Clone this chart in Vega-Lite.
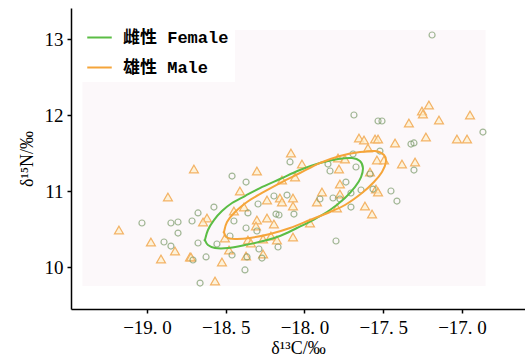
{
  "$schema": "https://vega.github.io/schema/vega-lite/v6.json",
  "width": 454,
  "height": 301,
  "padding": {"left": 71, "top": 8, "right": 0, "bottom": 52},
  "autosize": {"type": "none"},
  "background": "white",
  "config": {
    "view": {"stroke": null},
    "axis": {
      "grid": false,
      "zindex": 1,
      "ticks": true,
      "domainColor": "#000000",
      "domainWidth": 1.5,
      "tickColor": "#000000",
      "tickWidth": 1.5,
      "tickSize": 4,
      "labelFont": "Liberation Serif",
      "labelFontSize": 19,
      "labelColor": "#000000",
      "titleFont": "Liberation Serif",
      "titleFontSize": 18,
      "titleFontWeight": "normal",
      "titleColor": "#000000"
    }
  },
  "datasets": {
    "bg": [{"x1": -19.41, "x2": -16.85, "y1": 9.75, "y2": 13.12}],
    "female": [
      {"c": -19.032, "n": 10.579}, {"c": -18.848, "n": 10.579}, {"c": -18.803, "n": 10.592}, {"c": -18.714, "n": 10.605},
      {"c": -18.803, "n": 10.447}, {"c": -18.892, "n": 10.329}, {"c": -18.848, "n": 10.276}, {"c": -18.708, "n": 10.092},
      {"c": -18.46, "n": 11.197}, {"c": -18.371, "n": 11.118}, {"c": -18.092, "n": 11.382}, {"c": -18.575, "n": 10.789},
      {"c": -18.676, "n": 10.711}, {"c": -18.448, "n": 10.605}, {"c": -18.359, "n": 10.711}, {"c": -18.295, "n": 10.829},
      {"c": -18.194, "n": 10.934}, {"c": -18.111, "n": 10.947}, {"c": -18.181, "n": 10.697}, {"c": -18.162, "n": 10.684},
      {"c": -18.067, "n": 10.697}, {"c": -18.371, "n": 10.513}, {"c": -18.302, "n": 10.474}, {"c": -18.676, "n": 10.316},
      {"c": -18.556, "n": 10.303}, {"c": -18.473, "n": 10.408}, {"c": -18.168, "n": 10.263}, {"c": -18.289, "n": 10.237},
      {"c": -18.46, "n": 10.158}, {"c": -18.365, "n": 10.132}, {"c": -18.27, "n": 10.118}, {"c": -18.625, "n": 10.132},
      {"c": -18.378, "n": 9.961}, {"c": -18.663, "n": 9.789}, {"c": -17.686, "n": 12.0}, {"c": -17.533, "n": 11.921},
      {"c": -17.508, "n": 11.921}, {"c": -16.867, "n": 11.776}, {"c": -17.324, "n": 11.618}, {"c": -17.305, "n": 11.632},
      {"c": -17.521, "n": 11.526}, {"c": -17.692, "n": 11.487}, {"c": -17.305, "n": 11.276}, {"c": -17.851, "n": 11.355},
      {"c": -17.838, "n": 11.263}, {"c": -17.673, "n": 11.316}, {"c": -17.737, "n": 11.118}, {"c": -17.584, "n": 11.224},
      {"c": -17.641, "n": 11.013}, {"c": -17.565, "n": 11.026}, {"c": -17.451, "n": 11.0}, {"c": -17.413, "n": 10.868},
      {"c": -17.705, "n": 10.789}, {"c": -17.902, "n": 10.895}, {"c": -17.819, "n": 10.908}, {"c": -17.775, "n": 10.895},
      {"c": -17.705, "n": 10.974}, {"c": -17.8, "n": 10.342}, {"c": -17.19, "n": 13.053}
    ],
    "male": [
      {"c": -18.867, "n": 10.921}, {"c": -19.178, "n": 10.487}, {"c": -18.975, "n": 10.329}, {"c": -18.822, "n": 10.211},
      {"c": -18.911, "n": 10.105}, {"c": -18.727, "n": 10.132}, {"c": -18.702, "n": 11.289}, {"c": -18.302, "n": 11.263},
      {"c": -18.086, "n": 11.5}, {"c": -18.41, "n": 11.0}, {"c": -18.619, "n": 10.645}, {"c": -18.644, "n": 10.592},
      {"c": -18.448, "n": 10.737}, {"c": -18.384, "n": 10.789}, {"c": -18.238, "n": 10.882}, {"c": -18.156, "n": 10.908},
      {"c": -18.073, "n": 10.908}, {"c": -18.143, "n": 10.855}, {"c": -18.073, "n": 10.803}, {"c": -18.238, "n": 10.645},
      {"c": -18.302, "n": 10.618}, {"c": -18.308, "n": 10.539}, {"c": -18.194, "n": 10.566}, {"c": -18.073, "n": 10.395},
      {"c": -18.505, "n": 10.382}, {"c": -18.359, "n": 10.355}, {"c": -18.34, "n": 10.316}, {"c": -18.263, "n": 10.368},
      {"c": -18.213, "n": 10.408}, {"c": -18.175, "n": 10.355}, {"c": -18.479, "n": 10.224}, {"c": -18.371, "n": 10.145},
      {"c": -18.263, "n": 10.171}, {"c": -18.524, "n": 10.066}, {"c": -18.721, "n": 10.132}, {"c": -18.568, "n": 9.816},
      {"c": -18.016, "n": 11.355}, {"c": -17.21, "n": 12.132}, {"c": -17.254, "n": 12.053}, {"c": -17.248, "n": 12.013},
      {"c": -17.337, "n": 11.895}, {"c": -17.146, "n": 11.934}, {"c": -16.949, "n": 12.0}, {"c": -17.654, "n": 11.697},
      {"c": -17.622, "n": 11.671}, {"c": -17.552, "n": 11.684}, {"c": -17.533, "n": 11.684}, {"c": -17.425, "n": 11.632},
      {"c": -17.229, "n": 11.711}, {"c": -17.032, "n": 11.684}, {"c": -16.968, "n": 11.684}, {"c": -17.597, "n": 11.566},
      {"c": -17.54, "n": 11.408}, {"c": -17.495, "n": 11.408}, {"c": -17.381, "n": 11.355}, {"c": -17.298, "n": 11.382},
      {"c": -17.787, "n": 11.434}, {"c": -17.743, "n": 11.421}, {"c": -17.781, "n": 11.289}, {"c": -18.06, "n": 11.184},
      {"c": -18.143, "n": 11.145}, {"c": -17.775, "n": 11.092}, {"c": -17.584, "n": 11.25}, {"c": -17.546, "n": 11.026},
      {"c": -17.533, "n": 10.987}, {"c": -17.616, "n": 10.803}, {"c": -17.571, "n": 10.697}, {"c": -17.889, "n": 10.987},
      {"c": -17.921, "n": 10.855}, {"c": -17.775, "n": 10.961}, {"c": -17.794, "n": 10.776}, {"c": -17.965, "n": 10.579}
    ],
    "ell": [
      {"sex": "雌性 Female", "i": 0, "c": -18.632, "n": 10.355}, {"sex": "雌性 Female", "i": 1, "c": -18.613, "n": 10.487},
      {"sex": "雌性 Female", "i": 2, "c": -18.575, "n": 10.618}, {"sex": "雌性 Female", "i": 3, "c": -18.524, "n": 10.737},
      {"sex": "雌性 Female", "i": 4, "c": -18.46, "n": 10.842}, {"sex": "雌性 Female", "i": 5, "c": -18.378, "n": 10.934},
      {"sex": "雌性 Female", "i": 6, "c": -18.283, "n": 11.039}, {"sex": "雌性 Female", "i": 7, "c": -18.156, "n": 11.158},
      {"sex": "雌性 Female", "i": 8, "c": -18.029, "n": 11.276}, {"sex": "雌性 Female", "i": 9, "c": -17.902, "n": 11.368},
      {"sex": "雌性 Female", "i": 10, "c": -17.787, "n": 11.421}, {"sex": "雌性 Female", "i": 11, "c": -17.698, "n": 11.434},
      {"sex": "雌性 Female", "i": 12, "c": -17.648, "n": 11.395}, {"sex": "雌性 Female", "i": 13, "c": -17.629, "n": 11.303},
      {"sex": "雌性 Female", "i": 14, "c": -17.641, "n": 11.184}, {"sex": "雌性 Female", "i": 15, "c": -17.679, "n": 11.053},
      {"sex": "雌性 Female", "i": 16, "c": -17.743, "n": 10.908}, {"sex": "雌性 Female", "i": 17, "c": -17.838, "n": 10.75},
      {"sex": "雌性 Female", "i": 18, "c": -17.946, "n": 10.618}, {"sex": "雌性 Female", "i": 19, "c": -18.048, "n": 10.513},
      {"sex": "雌性 Female", "i": 20, "c": -18.156, "n": 10.408}, {"sex": "雌性 Female", "i": 21, "c": -18.263, "n": 10.342},
      {"sex": "雌性 Female", "i": 22, "c": -18.378, "n": 10.289}, {"sex": "雌性 Female", "i": 23, "c": -18.486, "n": 10.25},
      {"sex": "雌性 Female", "i": 24, "c": -18.568, "n": 10.25}, {"sex": "雌性 Female", "i": 25, "c": -18.613, "n": 10.289},
      {"sex": "雌性 Female", "i": 26, "c": -18.632, "n": 10.355},
      {"sex": "雄性 Male", "i": 0, "c": -18.511, "n": 10.461}, {"sex": "雄性 Male", "i": 1, "c": -18.492, "n": 10.592},
      {"sex": "雄性 Male", "i": 2, "c": -18.441, "n": 10.724}, {"sex": "雄性 Male", "i": 3, "c": -18.365, "n": 10.855},
      {"sex": "雄性 Male", "i": 4, "c": -18.27, "n": 10.974}, {"sex": "雄性 Male", "i": 5, "c": -18.156, "n": 11.105},
      {"sex": "雄性 Male", "i": 6, "c": -18.029, "n": 11.237}, {"sex": "雄性 Male", "i": 7, "c": -17.902, "n": 11.368},
      {"sex": "雄性 Male", "i": 8, "c": -17.775, "n": 11.461}, {"sex": "雄性 Male", "i": 9, "c": -17.648, "n": 11.513},
      {"sex": "雄性 Male", "i": 10, "c": -17.552, "n": 11.526}, {"sex": "雄性 Male", "i": 11, "c": -17.495, "n": 11.474},
      {"sex": "雄性 Male", "i": 12, "c": -17.483, "n": 11.382}, {"sex": "雄性 Male", "i": 13, "c": -17.508, "n": 11.25},
      {"sex": "雄性 Male", "i": 14, "c": -17.559, "n": 11.118}, {"sex": "雄性 Male", "i": 15, "c": -17.635, "n": 10.974},
      {"sex": "雄性 Male", "i": 16, "c": -17.743, "n": 10.816}, {"sex": "雄性 Male", "i": 17, "c": -17.838, "n": 10.724},
      {"sex": "雄性 Male", "i": 18, "c": -17.965, "n": 10.618}, {"sex": "雄性 Male", "i": 19, "c": -18.092, "n": 10.513},
      {"sex": "雄性 Male", "i": 20, "c": -18.219, "n": 10.434}, {"sex": "雄性 Male", "i": 21, "c": -18.346, "n": 10.382},
      {"sex": "雄性 Male", "i": 22, "c": -18.441, "n": 10.368}, {"sex": "雄性 Male", "i": 23, "c": -18.498, "n": 10.395},
      {"sex": "雄性 Male", "i": 24, "c": -18.511, "n": 10.461}
    ]
  },
  "layer": [
    {
      "data": {"name": "bg"},
      "mark": {"type": "rect", "fill": "#fcf8fa"},
      "encoding": {
        "x": {"field": "x1", "type": "quantitative", "scale": {"domain": [-19.4825, -16.6], "nice": false, "zero": false},
          "axis": {"values": [-19, -18.5, -18, -17.5, -17], "labelExpr": "replace(format(datum.value, '.1f'), '.', '. ')", "labelPadding": 5, "title": "δ¹³C/‰", "titlePadding": 2}},
        "x2": {"field": "x2"},
        "y": {"field": "y1", "type": "quantitative", "scale": {"domain": [9.4474, 13.408], "nice": false, "zero": false},
          "axis": {"values": [10, 11, 12, 13], "format": "d", "labelPadding": 4, "title": "δ¹⁵N/‰", "titlePadding": 8}},
        "y2": {"field": "y2"}
      }
    },
    {
      "data": {"name": "male"},
      "mark": {"type": "point", "shape": "triangle-up", "size": 80, "filled": true, "fill": "#fdf0cc", "fillOpacity": 0.7, "stroke": "#f3b366", "strokeWidth": 1.2},
      "encoding": {
        "x": {"field": "c", "type": "quantitative"},
        "y": {"field": "n", "type": "quantitative"}
      }
    },
    {
      "data": {"name": "female"},
      "mark": {"type": "point", "shape": "circle", "size": 36, "filled": false, "stroke": "#7d9c6c", "strokeWidth": 1.2},
      "encoding": {
        "x": {"field": "c", "type": "quantitative"},
        "y": {"field": "n", "type": "quantitative"}
      }
    },
    {
      "data": {"name": "ell"},
      "mark": {"type": "line", "strokeWidth": 2, "interpolate": "cardinal-closed"},
      "encoding": {
        "x": {"field": "c", "type": "quantitative"},
        "y": {"field": "n", "type": "quantitative"},
        "order": {"field": "i", "type": "quantitative"},
        "color": {
          "field": "sex", "type": "nominal",
          "scale": {"domain": ["雌性 Female", "雄性 Male"], "range": ["#5bbd45", "#f5a53a"]},
          "legend": {
            "title": null,
            "orient": "none",
            "legendX": 9,
            "legendY": 10,
            "fillColor": "white",
            "padding": 6,
            "symbolType": "stroke",
            "symbolSize": 600,
            "symbolStrokeWidth": 2,
            "rowPadding": 8,
            "labelFont": "Liberation Mono, Noto Sans CJK SC",
            "labelFontSize": 17,
            "labelFontWeight": "bold",
            "labelColor": "#000000",
            "labelOffset": 10,
            "labelLimit": 300
          }
        }
      }
    }
  ]
}
